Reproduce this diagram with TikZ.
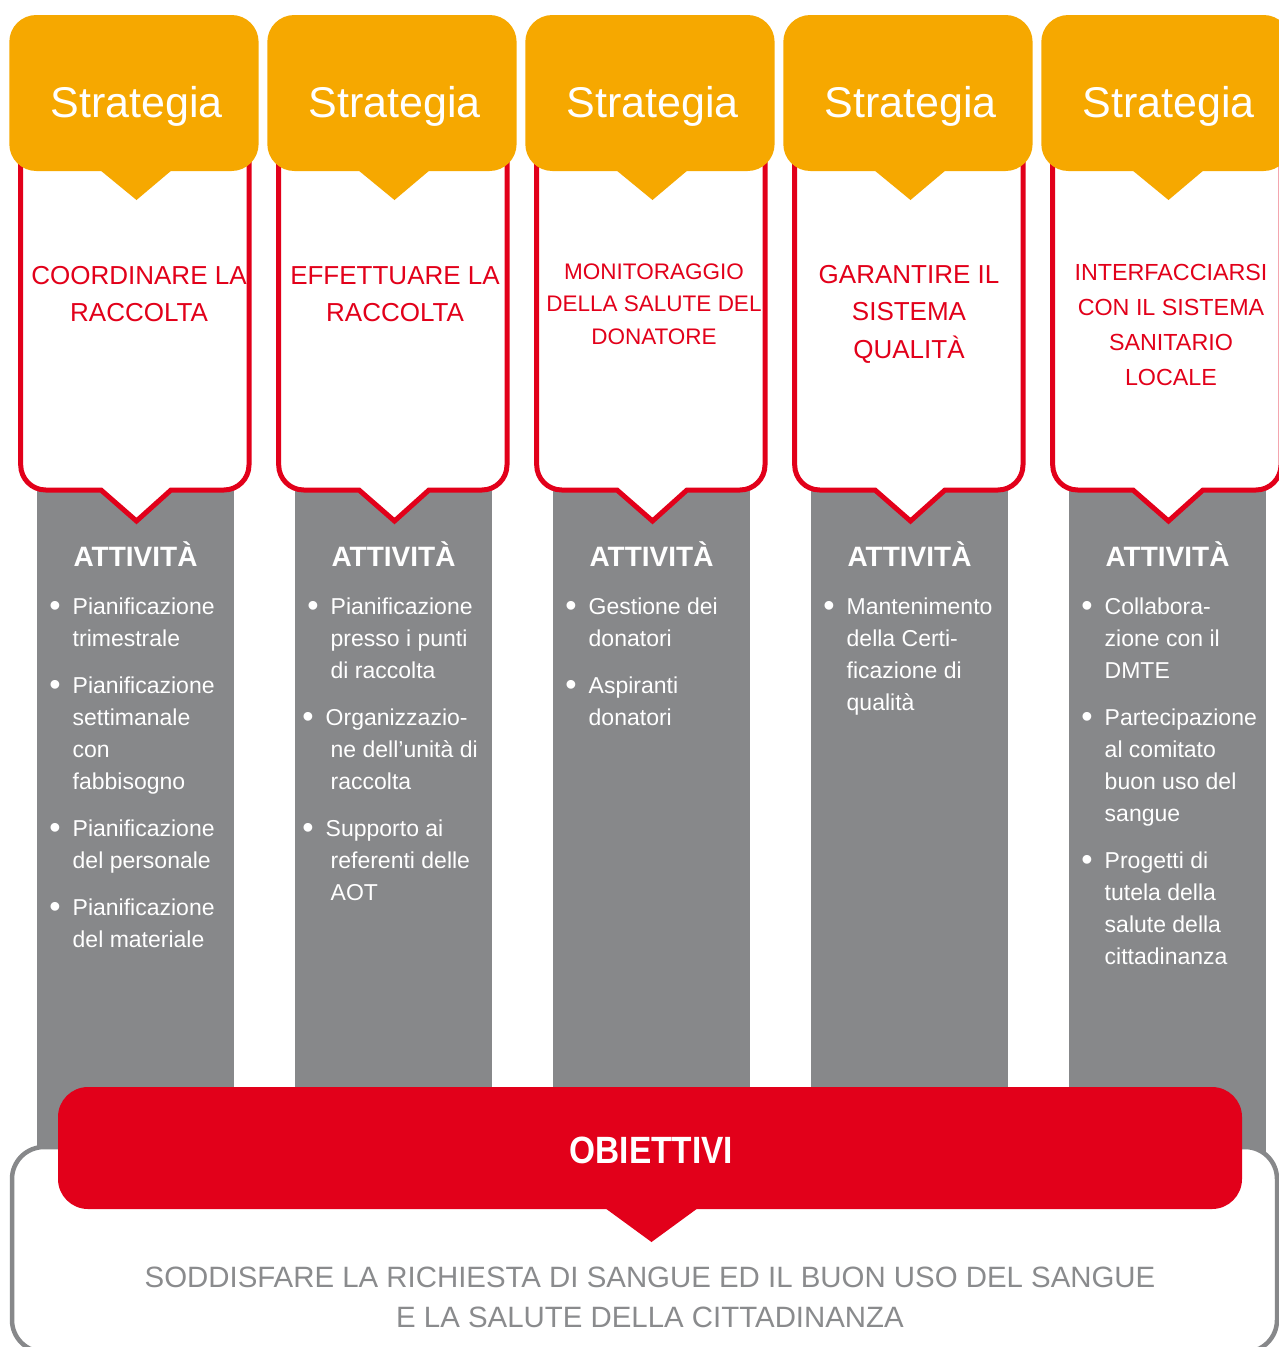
\documentclass[tikz,border=0pt]{standalone}
\usepackage{fontspec}
\setmainfont{Liberation Sans}
\usepackage{graphicx}
\usetikzlibrary{positioning}
\definecolor{arancio}{HTML}{F6A800}
\definecolor{rosso}{HTML}{E2001A}
\definecolor{grigio}{HTML}{87888A}
\definecolor{grigiotesto}{HTML}{8A8B8D}
% pallino per le voci delle attivita
\newcommand{\pallino}{\llap{\raisebox{-2pt}{\scalebox{1.4}{\textbullet}}\hspace{12pt}}}
\tikzset{
  % testi (base = linea di base dell'ultima riga)
  strat/.style={text=white, inner sep=0, anchor=base, font=\fontsize{43}{50}\selectfont},
  titolo/.style={text=rosso, inner sep=0, anchor=base, align=center, font=\fontsize{26}{37}\selectfont},
  intest/.style={text=white, inner sep=0, anchor=base, font=\fontsize{28}{32}\selectfont\bfseries},
  voce/.style={text=white, inner sep=0, anchor=base west, align=left, font=\fontsize{23}{32}\selectfont},
  % forme
  bordo/.style={draw=rosso, fill=white, line width=5, line join=miter},
}

\begin{document}
\begin{tikzpicture}[x=1pt, y=-1pt]
  \clip (0,0) rectangle (1279,1347);
  \fill[white] (0,0) rectangle (1279,1347);

  % colonne: attivita, obiettivo strategico, strategia
  \foreach \i in {0,...,4} {
    \pgfmathsetmacro\c{135.5+258*\i}
    \fill[grigio] (\c-98.5,480) rectangle (\c+98.5,1160);
    \filldraw[bordo] (\c-114.8,130) -- (\c-114.8,465) arc[start angle=180, end angle=90, radius=25]
      -- (\c-34.5,490) -- (\c+1,521) -- (\c+35.5,490)
      -- (\c+88.5,490) arc[start angle=90, end angle=0, radius=25] -- (\c+113.5,130);
    \fill[arancio, rounded corners=27] (\c-126.2,15) rectangle (\c+123.1,171);
    \fill[arancio] (\c-35.5,170) -- (\c+1,200) -- (\c+36.5,170) -- cycle;
  }

  % riquadro degli obiettivi
  \filldraw[fill=white, draw=grigio, line width=4.5, rounded corners=32] (12,1147) rectangle (1277,1352);
  \fill[rosso, rounded corners=30] (58,1087) rectangle (1242,1209);
  \fill[rosso] (605,1208) -- (651.5,1242) -- (698,1208) -- cycle;

  % strategie
  \node[strat] (strat1) at (136.5,117) {Strategia};
  \node[strat] (strat2) at (394.5,117) {Strategia};
  \node[strat] (strat3) at (652.5,117) {Strategia};
  \node[strat] (strat4) at (910.5,117) {Strategia};
  \node[strat] (strat5) at (1168.5,117) {Strategia};

  \node[titolo] (tit1) at (139,321) {COORDINARE LA\\RACCOLTA};
  \node[titolo] (tit2) at (395,321) {EFFETTUARE LA\\RACCOLTA};
  \node[titolo, font=\fontsize{22.5}{32.5}\selectfont] (tit3) at (654,344) {MONITORAGGIO\\DELLA SALUTE DEL\\DONATORE};
  \node[titolo, font=\fontsize{26}{37.5}\selectfont] (tit4) at (909,358) {GARANTIRE IL\\SISTEMA\\QUALITÀ};
  \node[titolo, font=\fontsize{23.3}{35}\selectfont] (tit5) at (1171,385) {INTERFACCIARSI\\CON IL SISTEMA\\SANITARIO\\LOCALE};

  % attivita
  \node[intest] (att1) at (135.5,566) {ATTIVITÀ};
  \node[intest] (att2) at (393.5,566) {ATTIVITÀ};
  \node[intest] (att3) at (651.5,566) {ATTIVITÀ};
  \node[intest] (att4) at (909.5,566) {ATTIVITÀ};
  \node[intest] (att5) at (1167.5,566) {ATTIVITÀ};

  \node[voce] (v11) at (72.5,646) {\pallino Pianificazione\\trimestrale};
  \node[voce] (v12) at (72.5,789) {\pallino Pianificazione\\settimanale\\con\\fabbisogno};
  \node[voce] (v13) at (72.5,868) {\pallino Pianificazione\\del personale};
  \node[voce] (v14) at (72.5,947) {\pallino Pianificazione\\del materiale};

  \node[voce] (v21) at (330.5,678) {\pallino Pianificazione\\presso i punti\\di raccolta};
  \node[voce] (v22) at (330.5,789) {\hspace*{-5pt}\pallino Organizzazio-\\ne dell’unità di\\raccolta};
  \node[voce] (v23) at (330.5,900) {\hspace*{-5pt}\pallino Supporto ai\\referenti delle\\AOT};

  \node[voce] (v31) at (588.5,646) {\pallino Gestione dei\\donatori};
  \node[voce] (v32) at (588.5,725) {\pallino Aspiranti\\donatori};

  \node[voce] (v41) at (846.5,710) {\pallino Mantenimento\\della Certi-\\ficazione di\\qualità};

  \node[voce] (v51) at (1104.5,678) {\pallino Collabora-\\zione con il\\DMTE};
  \node[voce] (v52) at (1104.5,821) {\pallino Partecipazione\\al comitato\\buon uso del\\sangue};
  \node[voce] (v53) at (1104.5,964) {\pallino Progetti di\\tutela della\\salute della\\cittadinanza};

  % obiettivi
  \node[text=white, inner sep=0, anchor=base, font=\fontsize{38}{40}\selectfont\bfseries] (obiettivi) at (651.5,1163)
    {\scalebox{0.88}[1]{OBIETTIVI}};
  \node[text=grigiotesto, inner sep=0, anchor=base, align=center, font=\fontsize{29.4}{40}\selectfont] (meta) at (650,1327)
    {SODDISFARE LA RICHIESTA DI SANGUE ED IL BUON USO DEL SANGUE\\E LA SALUTE DELLA CITTADINANZA};
\end{tikzpicture}
\end{document}
